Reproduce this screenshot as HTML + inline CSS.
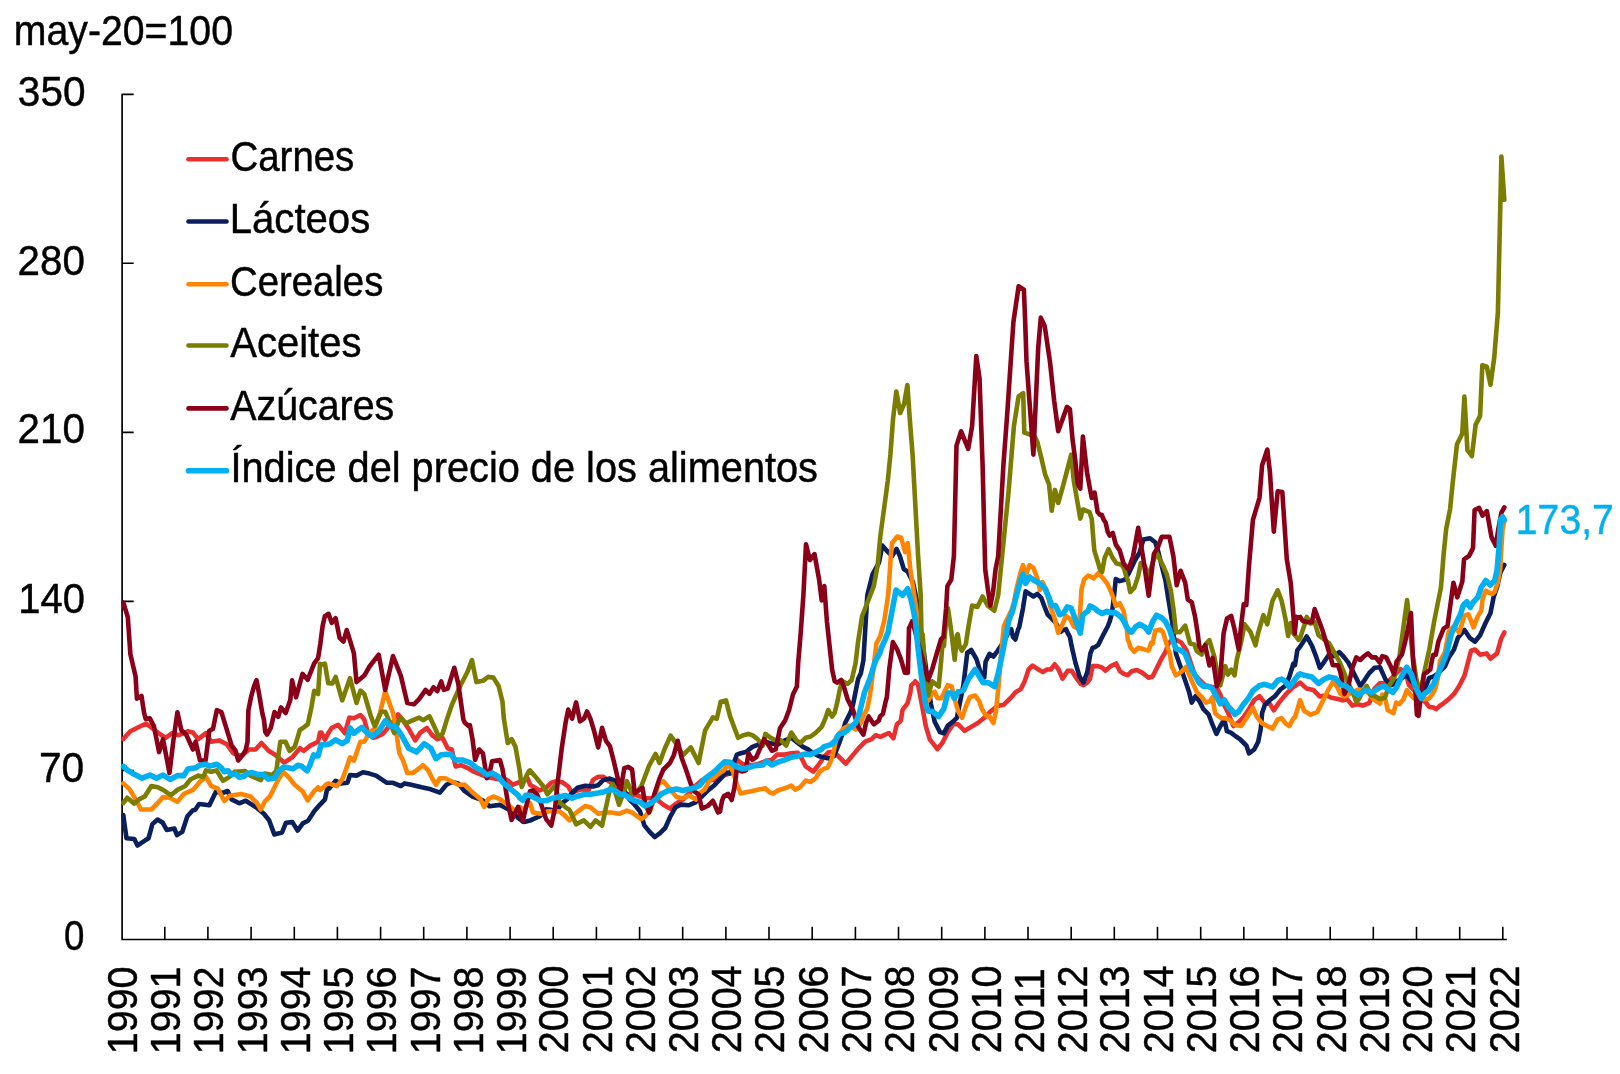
<!DOCTYPE html>
<html><head><meta charset="utf-8"><style>
html,body{margin:0;padding:0;background:#fff;overflow:hidden;}
svg{display:block;will-change:transform;}
text{font-family:"Liberation Sans", sans-serif;font-size:41.7px;stroke-width:0.45px;}
</style></head><body>
<svg width="1620" height="1074" viewBox="0 0 1620 1074">
<text transform="translate(13.84,44.80) scale(0.9408,1)" fill="#000" stroke="#000">may-20=100</text>
<text transform="translate(85.52,106.10) scale(0.9731,1)" text-anchor="end" fill="#000" stroke="#000">350</text>
<text transform="translate(84.97,274.90) scale(0.9683,1)" text-anchor="end" fill="#000" stroke="#000">280</text>
<text transform="translate(84.97,443.00) scale(0.9683,1)" text-anchor="end" fill="#000" stroke="#000">210</text>
<text transform="translate(84.86,613.00) scale(0.9570,1)" text-anchor="end" fill="#000" stroke="#000">140</text>
<text transform="translate(84.24,782.30) scale(0.9773,1)" text-anchor="end" fill="#000" stroke="#000">70</text>
<text transform="translate(84.42,950.00) scale(0.8795,1)" text-anchor="end" fill="#000" stroke="#000">0</text>
<text transform="translate(230.56,170.60) scale(0.9204,1)" fill="#000" stroke="#000">Carnes</text>
<text transform="translate(229.74,233.00) scale(0.9621,1)" fill="#000" stroke="#000">Lácteos</text>
<text transform="translate(230.09,296.00) scale(0.9182,1)" fill="#000" stroke="#000">Cereales</text>
<text transform="translate(230.24,356.70) scale(0.9597,1)" fill="#000" stroke="#000">Aceites</text>
<text transform="translate(230.26,419.70) scale(0.9434,1)" fill="#000" stroke="#000">Azúcares</text>
<text transform="translate(230.48,481.80) scale(0.9533,1)" fill="#000" stroke="#000">Índice del precio de los alimentos</text>
<path d="M133.7 94.3 H122.1 V939.5 H1506.8" fill="none" stroke="#000" stroke-width="1.7" stroke-linejoin="round"/>
<path d="M122.1 770.5H133.7 M122.1 601.4H133.7 M122.1 432.4H133.7 M122.1 263.3H133.7 M164.8 939.5V926.8 M207.9 939.5V926.8 M251.1 939.5V926.8 M294.3 939.5V926.8 M337.4 939.5V926.8 M380.6 939.5V926.8 M423.7 939.5V926.8 M466.9 939.5V926.8 M510.1 939.5V926.8 M553.2 939.5V926.8 M596.4 939.5V926.8 M639.6 939.5V926.8 M682.7 939.5V926.8 M725.9 939.5V926.8 M769.0 939.5V926.8 M812.2 939.5V926.8 M855.4 939.5V926.8 M898.5 939.5V926.8 M941.7 939.5V926.8 M984.9 939.5V926.8 M1028.0 939.5V926.8 M1071.2 939.5V926.8 M1114.3 939.5V926.8 M1157.5 939.5V926.8 M1200.7 939.5V926.8 M1243.8 939.5V926.8 M1287.0 939.5V926.8 M1330.2 939.5V926.8 M1373.3 939.5V926.8 M1416.5 939.5V926.8 M1459.7 939.5V926.8 M1502.8 939.5V926.8" fill="none" stroke="#000" stroke-width="1.6"/>
<polyline points="123.3,739.0 130.4,731.3 136.9,728.0 146.1,723.5 157.8,732.6 165.6,737.8 172.1,733.2 178.7,735.2 187.8,731.3 193.0,732.6 198.2,739.1 206.0,733.2 211.2,741.7 219.1,740.4 226.9,744.3 233.4,753.4 241.2,756.1 249.1,749.5 255.6,749.5 261.4,743.0 268.6,750.8 275.1,754.7 284.2,762.6 292.1,757.4 299.9,748.2 303.8,750.8 310.3,745.6 318.1,741.7 320.0,732.6 321.4,732.6 324.9,739.8 328.6,732.6 331.7,728.0 338.2,724.8 344.8,733.2 349.3,717.6 353.9,718.2 360.4,715.0 364.3,719.6 368.2,733.9 373.4,737.8 377.4,736.5 382.6,733.9 387.8,728.0 393.0,722.2 398.2,714.3 403.4,720.9 408.6,728.7 415.2,740.4 420.4,732.6 426.9,728.0 432.1,735.2 437.3,739.1 442.5,737.8 447.7,748.2 451.7,749.5 455.6,766.5 460.8,765.2 467.3,767.8 473.8,771.7 480.3,774.3 486.9,776.9 493.4,778.2 499.9,779.5 506.4,779.5 512.9,784.7 519.4,782.1 526.0,779.5 527.8,778.6 530.0,784.7 533.0,786.5 539.6,790.4 546.1,787.8 551.3,782.6 556.5,781.2 563.0,782.6 568.2,786.5 572.1,793.0 577.4,790.4 582.6,789.1 587.8,791.7 593.0,779.9 598.2,776.7 603.4,776.7 608.6,781.2 613.9,783.9 619.1,791.7 624.3,794.3 630.8,794.3 637.3,795.6 645.1,798.2 650.4,798.2 656.9,799.5 663.4,804.7 669.9,808.6 676.4,803.4 682.9,799.5 689.5,793.0 696.0,785.2 702.5,779.9 709.0,779.9 715.5,779.9 722.0,776.0 730.0,773.4 736.9,759.8 742.0,763.7 745.9,765.0 753.7,765.0 758.9,763.7 765.4,761.1 771.9,759.8 777.0,754.6 784.8,754.6 791.3,753.3 797.8,752.7 801.7,758.5 805.6,766.3 813.3,771.5 818.5,765.0 823.7,757.2 828.9,752.0 834.1,752.0 839.3,757.2 845.7,763.7 852.2,755.9 858.7,748.1 865.2,741.7 871.7,739.1 875.6,735.2 880.4,736.9 888.8,733.0 893.4,738.2 896.9,724.3 899.9,721.7 900.9,720.4 902.5,710.0 903.5,708.6 907.5,703.4 910.3,693.0 911.3,685.2 914.2,682.6 915.2,681.3 918.0,684.5 921.9,704.7 925.8,726.2 929.8,739.3 937.4,749.1 942.6,742.5 947.8,732.1 953.0,724.3 958.2,724.3 964.7,730.8 971.2,726.9 977.8,723.0 984.3,717.8 990.8,711.2 997.3,706.0 1003.8,704.7 1010.4,698.2 1015.6,692.3 1020.8,689.1 1024.7,681.3 1028.6,669.5 1032.5,665.6 1036.4,668.2 1042.9,672.1 1046.9,669.5 1050.8,669.5 1054.7,664.3 1058.6,669.5 1062.5,678.7 1067.7,670.8 1071.6,670.8 1076.8,678.7 1080.7,683.9 1083.4,685.2 1087.3,682.6 1090.0,678.9 1092.6,666.1 1097.8,666.1 1101.7,667.4 1105.6,670.6 1110.9,666.1 1116.1,663.5 1120.0,671.3 1123.9,673.9 1127.8,675.2 1131.7,671.3 1136.9,670.0 1142.1,672.6 1148.7,677.8 1152.6,676.5 1157.8,666.1 1161.7,658.2 1165.6,651.7 1168.2,643.9 1170.8,641.2 1176.0,639.9 1181.2,642.5 1186.5,650.4 1195.1,675.4 1205.2,685.5 1213.6,687.2 1216.9,688.0 1220.4,694.7 1224.3,705.2 1228.2,713.0 1233.4,726.0 1238.6,722.1 1243.8,716.9 1249.0,709.1 1254.2,700.0 1259.5,696.1 1264.7,702.6 1269.9,703.9 1273.8,710.4 1279.0,702.6 1285.5,694.7 1293.4,686.9 1295.0,686.0 1300.1,682.6 1306.7,688.6 1313.2,689.9 1319.8,696.5 1326.3,695.2 1331.5,697.8 1338.0,699.1 1343.2,700.4 1347.1,699.1 1352.4,705.6 1357.6,704.3 1362.8,705.6 1369.3,703.0 1374.5,688.6 1379.7,683.4 1386.2,683.4 1394.1,675.6 1400.6,669.1 1405.8,673.0 1409.0,685.1 1412.4,688.5 1419.0,696.0 1425.8,702.5 1429.2,706.9 1433.6,707.5 1436.0,709.2 1440.0,705.8 1442.3,704.3 1448.8,699.1 1454.0,693.9 1459.2,686.0 1464.5,675.6 1471.0,650.8 1474.9,649.5 1480.1,654.7 1486.6,653.4 1490.5,658.7 1497.0,653.4 1501.0,639.1 1504.3,632.4" fill="none" stroke="#EA2F2F" stroke-width="4.6" stroke-linejoin="round" stroke-linecap="round"/>
<polyline points="123.3,815.0 124.5,824.1 126.5,838.3 134.3,839.0 137.5,845.5 143.3,841.6 148.5,838.3 152.4,824.1 157.6,819.5 162.8,822.8 166.7,829.9 174.4,828.6 177.0,835.1 182.2,831.9 187.4,816.3 192.6,810.5 195.2,809.8 199.1,804.0 209.4,805.3 215.9,791.7 222.4,793.0 227.6,791.0 231.5,799.4 239.3,803.3 245.7,800.7 256.1,807.2 263.9,813.7 269.1,820.2 274.3,834.4 282.0,832.5 285.9,822.8 292.4,822.1 297.6,830.6 302.8,823.4 308.0,820.8 314.4,811.1 319.8,804.8 325.0,799.3 327.4,787.8 329.1,788.6 335.6,780.8 340.9,783.4 347.4,782.8 350.0,775.0 356.5,775.6 363.0,772.3 369.5,773.6 376.1,775.6 383.9,780.8 386.5,782.8 393.0,782.8 400.8,786.0 404.7,783.4 411.2,784.7 421.7,787.3 430.8,789.3 439.9,792.6 446.4,784.7 451.7,782.1 458.2,783.4 464.7,791.2 472.5,796.5 482.9,800.4 489.5,806.2 499.9,804.9 506.4,808.2 512.9,812.1 518.1,818.0 523.4,821.9 525.2,821.7 530.0,820.6 533.0,819.1 539.6,816.4 546.1,809.3 551.3,809.9 556.5,811.2 561.7,803.4 566.9,799.5 572.1,793.0 577.4,787.8 585.2,785.8 593.0,786.5 598.2,785.2 603.4,779.9 609.9,778.6 615.2,780.6 619.1,785.2 624.3,790.4 629.5,799.5 634.7,804.7 639.9,811.2 644.4,825.4 649.6,831.9 654.8,837.0 660.0,833.1 665.2,828.0 670.4,816.3 675.6,807.2 680.7,804.6 688.5,805.3 695.0,802.7 701.5,796.9 708.0,790.4 714.4,785.2 720.4,778.9 726.2,772.5 730.0,773.4 733.0,765.0 736.9,754.6 740.7,753.3 745.9,752.0 752.4,746.9 758.9,744.3 765.4,741.7 771.9,743.6 778.3,744.3 784.8,740.4 791.3,737.8 797.8,743.0 803.0,746.9 808.1,749.4 813.3,753.3 818.5,755.9 823.7,757.2 828.9,758.5 834.1,755.9 839.3,743.0 841.9,735.2 845.1,723.0 850.4,712.6 853.0,704.7 855.6,691.7 858.2,678.7 860.8,673.5 863.4,660.4 867.3,595.2 872.5,574.3 879.0,562.6 882.3,545.6 888.2,552.2 892.1,556.1 896.6,548.9 899.9,556.1 903.8,569.1 907.7,571.7 912.9,582.1 916.8,600.4 930.8,703.4 934.7,721.7 940.0,732.1 943.9,733.4 947.8,725.6 953.0,721.7 956.9,717.8 959.5,704.7 963.4,685.2 967.3,652.6 971.2,650.0 976.5,659.1 980.4,672.1 984.3,677.4 985.6,661.7 989.5,653.9 993.4,656.5 997.3,651.3 1005.1,639.6 1009.1,630.4 1011.2,629.1 1013.0,636.9 1015.4,639.5 1018.2,629.1 1019.1,627.8 1023.0,608.2 1025.6,591.3 1029.5,593.9 1033.4,596.5 1037.3,593.9 1041.2,597.8 1045.1,608.2 1047.7,614.7 1051.7,618.6 1055.6,622.6 1060.8,631.7 1062.5,630.4 1066.0,629.1 1067.7,633.0 1069.9,636.9 1071.6,646.1 1075.5,663.0 1079.4,676.1 1083.4,682.6 1087.3,672.1 1090.4,653.4 1092.6,647.8 1094.7,647.3 1098.2,644.9 1102.8,635.8 1107.7,626.5 1109.6,621.7 1111.9,613.6 1113.8,598.0 1115.8,579.1 1119.7,581.1 1124.9,579.7 1128.8,573.2 1134.3,561.7 1139.5,552.6 1143.4,539.6 1150.0,538.2 1155.2,542.2 1157.8,550.0 1161.7,565.6 1165.6,581.3 1168.2,598.2 1172.1,621.7 1173.4,633.5 1175.9,653.6 1180.1,665.4 1183.4,675.4 1189.1,692.1 1191.7,702.6 1195.6,696.1 1199.5,701.3 1203.4,709.1 1208.6,714.3 1212.5,724.7 1216.4,733.9 1220.4,726.0 1224.3,719.5 1226.9,731.2 1230.8,732.6 1236.0,736.5 1239.9,739.1 1243.8,743.0 1246.4,745.6 1249.0,753.4 1254.2,749.5 1258.2,741.7 1260.8,728.6 1262.1,713.0 1264.7,705.2 1269.9,700.0 1275.1,696.1 1280.3,689.5 1285.5,685.6 1289.4,676.5 1293.4,663.5 1295.0,665.2 1297.3,650.4 1300.1,646.7 1306.7,636.5 1311.9,645.6 1315.9,656.1 1319.8,667.8 1323.7,662.6 1328.9,654.7 1334.1,656.1 1339.3,652.1 1343.2,656.1 1348.4,662.6 1352.4,670.4 1357.6,680.8 1360.2,686.0 1364.1,680.8 1369.3,673.0 1374.5,667.8 1380.0,667.3 1385.6,679.6 1391.7,685.1 1399.0,680.0 1406.3,675.1 1413.0,683.0 1418.0,691.0 1422.0,693.0 1426.4,685.1 1429.2,677.9 1433.1,676.8 1438.0,673.5 1444.9,666.5 1448.8,657.4 1454.0,649.5 1457.9,637.8 1464.5,630.0 1469.7,637.8 1474.9,641.7 1480.1,635.2 1485.3,623.5 1490.5,613.0 1493.6,597.3 1497.0,587.2 1500.3,572.7 1504.3,565.0" fill="none" stroke="#0A1F5C" stroke-width="4.6" stroke-linejoin="round" stroke-linecap="round"/>
<polyline points="123.3,783.4 129.1,788.6 135.6,799.1 140.9,809.5 151.3,809.5 157.8,803.0 163.0,797.1 169.5,797.8 177.4,801.7 183.9,793.9 193.0,789.9 200.8,780.8 206.0,776.9 211.2,786.0 217.8,788.6 224.3,801.0 229.5,795.8 241.2,793.9 250.4,796.5 256.9,803.0 260.8,809.5 264.7,801.7 269.9,796.5 276.4,783.4 282.9,771.7 289.5,778.2 294.7,784.7 302.5,791.2 307.7,800.4 314.2,791.2 318.1,787.3 320.0,789.9 323.4,787.3 326.5,784.1 328.6,783.4 336.9,786.0 342.2,779.5 346.1,769.1 350.0,757.4 353.9,760.6 360.4,741.7 364.3,741.7 369.5,732.6 374.7,728.7 380.0,713.0 385.2,691.2 393.0,713.0 395.6,726.1 398.2,745.6 399.5,753.4 403.4,761.3 407.3,773.0 412.6,773.0 416.5,770.4 423.0,765.2 428.2,770.4 432.1,778.2 436.0,784.7 439.9,778.2 445.1,778.2 450.4,780.8 458.2,784.7 464.7,784.7 471.2,791.2 480.3,799.1 484.2,806.9 488.2,799.1 493.4,796.5 499.9,799.1 505.1,803.0 510.3,806.9 515.5,810.8 520.4,807.1 523.4,810.8 525.6,807.1 530.0,803.0 533.0,812.5 540.9,813.8 548.7,811.2 553.9,811.2 559.1,811.2 564.3,815.1 569.5,820.4 574.7,813.8 580.0,809.9 585.2,806.0 590.4,807.3 598.2,813.8 604.7,812.5 611.2,812.5 619.1,813.8 626.9,810.6 632.1,812.5 637.3,816.4 641.2,819.1 645.1,816.4 650.4,809.9 655.6,794.3 658.2,783.9 663.4,781.2 669.9,789.1 676.4,796.9 682.9,798.2 689.5,795.6 696.0,799.5 699.9,793.0 705.1,789.1 709.0,781.2 715.5,776.0 720.0,772.8 723.4,770.8 726.9,766.0 730.0,766.9 733.0,771.5 736.9,784.4 740.7,793.5 745.9,792.2 752.4,790.9 758.9,789.6 765.4,788.3 769.3,792.2 773.1,793.5 778.3,790.3 784.8,788.3 791.3,785.7 795.2,789.6 800.4,787.0 805.6,780.6 810.7,781.9 815.9,778.0 819.8,771.5 823.7,768.9 827.6,767.6 831.5,759.8 834.1,749.4 836.7,736.5 843.8,728.2 849.1,725.6 855.6,729.5 860.8,723.0 863.4,715.2 867.3,708.7 869.9,695.6 872.5,676.1 876.4,643.4 880.2,636.3 884.2,621.2 888.2,595.2 890.8,556.1 892.1,543.0 897.3,536.5 901.2,537.8 905.1,552.2 907.7,543.0 910.3,569.1 914.2,595.2 918.1,621.2 928.2,700.8 932.1,693.0 934.7,691.7 937.4,698.2 941.3,698.2 945.2,690.4 947.8,685.2 951.7,686.5 954.3,698.2 958.2,711.2 962.1,717.8 966.0,706.0 969.9,696.9 975.2,695.6 979.1,700.8 981.7,708.6 985.6,715.2 989.5,716.5 993.4,723.0 996.0,711.2 998.6,685.2 1001.2,652.6 1003.8,626.5 1006.0,621.2 1011.2,610.8 1013.9,603.0 1016.5,588.7 1020.4,573.0 1023.0,565.2 1025.6,575.6 1029.5,565.2 1033.4,567.8 1037.3,578.2 1039.9,590.0 1042.5,582.1 1046.4,590.0 1050.4,606.9 1054.3,617.3 1058.2,633.0 1062.1,625.2 1066.0,616.0 1069.9,618.6 1073.8,626.5 1079.0,629.1 1081.6,588.7 1084.2,579.5 1088.2,575.6 1090.0,576.1 1093.6,578.4 1098.2,573.2 1102.8,577.8 1107.3,583.7 1111.2,592.1 1113.5,598.2 1115.8,605.8 1119.7,603.2 1123.6,611.0 1126.9,629.3 1127.8,640.0 1129.1,642.5 1130.2,646.9 1134.3,651.7 1138.2,647.8 1143.4,649.1 1147.4,650.4 1148.7,650.4 1151.3,642.5 1152.6,643.9 1155.2,630.8 1160.4,629.5 1163.0,632.1 1166.9,645.1 1170.0,654.5 1171.7,666.2 1175.9,675.4 1180.9,672.1 1185.9,667.0 1189.3,675.4 1193.5,684.6 1196.9,692.1 1202.1,697.4 1206.0,702.6 1209.9,701.3 1212.5,697.4 1215.1,713.0 1217.7,715.6 1221.7,718.2 1225.6,718.2 1230.8,720.8 1234.7,724.7 1241.2,726.0 1246.4,718.2 1252.9,707.8 1256.9,716.9 1262.1,723.4 1267.3,726.0 1272.5,728.6 1277.7,719.5 1281.6,718.2 1285.5,723.4 1289.4,726.0 1293.4,718.2 1295.0,717.3 1300.1,700.2 1304.1,710.8 1310.6,714.7 1317.2,712.1 1322.4,701.7 1327.6,691.2 1332.8,682.1 1336.7,686.0 1340.6,693.9 1344.5,696.5 1357.6,689.9 1364.1,689.9 1369.3,693.9 1373.2,699.1 1380.0,703.6 1382.2,694.6 1385.6,700.2 1387.8,710.3 1393.4,713.1 1396.2,702.5 1399.6,704.1 1403.5,699.1 1406.8,690.2 1409.6,693.5 1413.5,698.0 1419.1,700.2 1424.7,699.1 1429.2,698.5 1433.6,692.4 1435.9,686.8 1438.1,676.8 1440.0,661.0 1444.9,652.1 1448.8,631.3 1454.0,626.1 1459.2,632.6 1464.5,615.6 1468.4,614.3 1473.6,627.4 1477.5,616.9 1481.4,610.4 1482.5,599.5 1485.8,590.6 1489.2,592.8 1492.5,593.9 1494.7,591.7 1498.1,581.6 1500.3,568.2 1501.5,545.9 1502.6,529.1 1504.3,521.5" fill="none" stroke="#FF8400" stroke-width="4.6" stroke-linejoin="round" stroke-linecap="round"/>
<polyline points="123.3,803.0 127.2,797.8 134.3,803.6 139.6,799.1 144.8,796.5 151.3,786.0 157.8,787.3 163.0,789.9 170.8,795.2 177.4,789.9 185.2,786.0 190.4,779.5 198.2,775.6 203.4,776.9 206.0,770.4 211.2,771.7 216.5,770.4 223.0,780.8 229.5,776.9 234.7,771.7 245.1,771.0 250.4,775.6 260.8,780.2 264.7,773.6 272.5,775.0 276.4,770.4 280.3,741.7 285.5,741.7 289.5,750.8 294.7,746.9 299.9,730.0 303.8,727.4 307.7,724.4 311.6,706.5 314.2,690.8 318.1,694.1 320.0,663.9 321.4,664.7 324.9,663.6 328.2,683.2 332.4,683.4 335.6,676.9 342.2,700.4 350.0,678.2 356.5,703.0 360.4,690.6 364.3,693.9 370.8,716.0 374.7,726.1 381.3,711.7 385.2,711.7 389.1,720.9 394.3,733.2 398.2,722.2 400.8,717.6 406.0,723.5 411.2,720.9 419.1,717.6 423.0,720.2 429.5,716.3 434.7,727.4 438.6,736.5 442.5,733.9 447.7,716.9 451.7,705.2 460.8,684.7 467.3,672.3 471.9,660.0 476.4,682.1 482.9,680.8 488.2,676.9 493.4,677.6 498.6,686.0 502.5,701.7 503.8,718.2 507.7,743.0 511.6,739.1 515.5,746.9 519.7,770.6 521.7,786.9 526.0,776.9 529.1,770.8 530.0,770.4 536.9,778.6 543.5,786.5 547.4,794.3 555.2,785.2 559.1,802.1 565.6,807.3 569.5,809.9 576.1,824.3 583.9,820.4 590.4,826.9 595.6,820.4 602.1,825.6 606.0,807.3 609.9,789.1 612.6,783.9 619.1,804.7 624.3,790.4 626.9,781.2 632.1,793.0 637.3,791.7 641.2,786.5 649.1,765.6 655.6,753.9 659.5,763.0 664.7,748.7 670.6,735.6 675.1,742.1 682.9,755.2 690.8,747.4 698.6,763.0 705.1,730.4 712.9,717.4 716.8,718.7 720.7,701.7 726.0,700.4 730.0,716.1 738.1,737.8 743.3,735.2 748.5,733.9 752.4,735.2 757.6,739.1 762.8,745.6 765.4,733.9 770.6,737.8 775.7,740.4 780.9,740.4 786.1,745.6 791.3,732.6 796.5,740.4 800.4,743.0 805.6,737.8 810.7,736.5 815.9,732.6 821.7,726.9 825.6,717.8 828.2,710.0 832.1,716.5 834.7,712.6 837.3,702.1 839.9,689.1 842.5,681.3 847.7,683.9 851.7,680.0 855.6,663.0 858.2,640.8 862.1,616.0 867.3,603.0 873.8,586.1 877.7,565.2 880.3,536.5 887.8,480.8 890.4,454.7 893.0,419.5 896.3,391.5 900.2,413.0 904.1,403.9 907.4,385.0 910.0,422.1 912.6,454.7 918.1,556.1 920.7,595.2 921.7,646.1 922.7,634.3 925.6,678.7 928.2,695.6 932.1,681.3 938.7,686.5 941.3,659.1 942.2,647.3 943.9,646.1 946.1,621.2 948.0,608.2 951.3,631.7 953.0,646.1 954.7,659.7 956.9,635.6 957.8,634.3 959.5,646.1 961.9,650.6 965.8,644.1 968.4,627.1 972.1,605.6 977.4,606.9 982.6,596.5 987.8,605.6 994.3,610.8 998.2,595.2 1000.8,569.1 1008.6,491.2 1013.9,426.1 1018.6,396.4 1023.2,393.2 1024.3,432.6 1028.2,433.9 1034.7,436.5 1037.3,441.7 1041.2,457.4 1045.1,474.3 1049.1,484.7 1051.7,510.8 1054.9,489.9 1058.2,503.0 1063.4,484.7 1071.2,454.7 1073.8,480.8 1080.3,518.6 1082.9,509.5 1089.5,512.1 1091.7,518.7 1094.3,550.4 1097.8,561.7 1099.9,569.1 1102.1,571.9 1104.7,557.6 1108.6,549.1 1112.5,557.6 1116.5,563.5 1120.0,564.3 1122.0,565.2 1123.9,568.2 1126.0,575.6 1127.8,580.0 1130.2,592.1 1134.3,587.8 1138.2,576.1 1140.8,563.0 1144.7,565.6 1148.7,576.1 1152.6,563.0 1156.5,552.6 1159.1,557.8 1163.0,565.6 1166.9,574.7 1170.8,590.4 1173.4,608.6 1176.0,632.1 1179.9,632.1 1185.2,625.6 1190.1,643.6 1194.3,644.4 1196.8,651.1 1201.8,654.5 1206.0,643.6 1209.4,640.2 1211.9,648.6 1214.4,657.0 1217.8,675.4 1220.3,685.5 1222.8,675.4 1225.3,666.2 1227.8,674.6 1231.2,669.6 1234.5,675.4 1237.0,658.7 1241.2,641.9 1244.6,624.3 1250.4,631.8 1255.5,645.3 1258.0,633.5 1263.4,615.2 1267.3,624.3 1272.5,600.8 1277.7,590.4 1281.6,600.8 1285.5,619.1 1288.1,636.0 1290.7,623.0 1293.4,633.4 1295.0,635.2 1298.6,639.9 1300.2,637.8 1304.1,626.1 1306.7,616.9 1310.6,623.5 1314.6,622.2 1318.5,635.2 1323.7,639.1 1328.9,643.0 1334.1,652.1 1339.3,661.3 1343.2,670.4 1347.1,680.8 1352.4,691.2 1356.3,701.7 1358.9,699.1 1362.8,691.2 1366.7,686.0 1370.6,695.2 1375.8,696.5 1379.7,699.1 1384.9,697.8 1388.9,686.0 1394.1,678.2 1399.3,657.4 1403.2,628.7 1407.1,600.0 1412.3,652.1 1416.2,678.2 1420.1,693.9 1424.1,673.0 1429.3,649.5 1434.5,619.6 1441.0,587.3 1443.6,554.7 1446.2,528.7 1450.1,509.1 1452.7,483.0 1454.0,471.0 1457.0,444.2 1462.2,433.8 1464.4,396.6 1467.4,450.2 1471.9,456.1 1475.6,424.9 1480.1,415.9 1482.3,365.3 1486.8,366.8 1490.5,384.7 1494.2,357.9 1497.9,312.3 1501.4,156.6 1504.3,199.8" fill="none" stroke="#7A7D00" stroke-width="4.6" stroke-linejoin="round" stroke-linecap="round"/>
<polyline points="123.3,602.5 127.8,617.2 130.4,654.3 135.6,676.5 136.9,698.6 141.5,696.0 144.1,713.0 145.7,718.9 149.7,718.2 153.9,726.1 159.1,752.1 163.0,739.1 169.5,773.0 173.4,740.4 177.4,712.3 181.3,730.0 186.5,735.2 193.0,749.5 195.6,741.7 200.0,760.5 205.6,760.5 209.3,730.7 213.0,728.9 216.8,710.2 221.4,712.1 231.7,745.6 235.4,750.3 238.2,760.5 242.8,754.9 245.6,750.3 247.5,741.9 248.4,710.3 251.2,696.3 254.0,686.3 256.5,680.1 259.0,693.5 262.3,713.1 264.0,720.0 265.2,731.7 267.0,734.5 270.8,727.9 274.5,712.1 278.2,716.8 281.0,707.4 285.7,713.0 290.3,700.0 292.1,680.4 296.0,697.3 302.5,673.9 307.7,679.7 314.2,663.4 318.1,658.2 320.4,643.4 322.6,626.1 324.9,616.1 328.5,613.8 331.7,622.8 335.6,618.2 339.6,637.8 343.5,641.7 346.7,630.0 350.0,640.4 353.9,653.4 356.5,682.1 364.3,675.6 369.5,666.5 378.7,654.7 385.2,689.9 393.0,656.1 400.8,675.6 407.3,703.0 413.9,704.3 419.1,699.1 425.6,689.9 429.5,693.9 433.4,687.3 437.3,691.2 441.2,681.5 443.8,689.9 447.7,688.6 454.3,667.8 458.2,683.4 463.4,719.6 464.7,722.5 468.6,726.1 469.9,725.1 472.5,739.1 475.1,760.0 479.0,749.5 482.9,753.4 486.9,778.2 489.5,773.0 492.1,761.3 499.9,760.0 502.5,769.1 507.7,801.7 511.6,819.9 518.1,806.9 522.7,821.2 527.3,801.7 530.0,791.2 533.0,790.4 536.9,794.3 540.9,803.4 546.1,819.1 551.3,825.6 555.2,807.3 557.8,781.2 561.7,748.7 565.6,722.6 568.2,709.6 572.1,718.7 576.1,702.4 580.0,721.3 583.9,718.7 587.1,711.5 590.4,718.7 594.3,731.7 598.2,747.4 602.1,727.8 606.0,740.8 609.9,746.1 613.9,761.7 617.8,778.6 620.4,791.7 624.3,768.2 628.2,766.9 632.1,769.5 634.7,793.0 638.6,790.4 642.5,787.8 645.1,803.4 649.1,812.5 654.3,794.3 659.5,778.6 663.4,769.5 669.9,763.0 673.8,755.2 677.7,740.8 681.6,757.8 685.5,768.2 690.8,783.9 694.7,791.7 698.6,794.3 701.8,808.6 707.7,806.0 712.9,800.8 718.1,812.5 720.0,811.7 722.0,800.8 723.9,796.1 728.2,793.9 731.7,800.0 734.3,788.3 736.9,768.9 742.0,771.5 745.9,770.2 748.5,753.3 752.4,759.8 756.3,757.2 760.2,748.1 764.1,739.1 768.0,744.3 771.9,750.7 775.7,749.4 780.0,728.2 785.2,720.4 789.1,710.0 793.0,694.3 796.9,686.5 798.2,663.0 800.8,631.7 803.4,595.2 806.0,544.3 809.9,560.0 814.5,554.1 819.1,579.5 821.7,600.4 824.3,586.1 826.9,621.2 832.1,669.6 834.7,681.3 837.3,682.6 841.2,680.0 843.8,686.5 847.7,699.5 853.0,710.0 858.2,726.9 863.4,734.7 866.0,723.0 868.6,716.5 873.8,724.3 879.0,720.4 880.0,716.5 882.9,713.9 885.2,703.4 886.9,696.9 889.3,668.9 892.9,642.1 897.1,649.3 900.9,659.1 904.9,672.8 907.9,672.8 909.0,627.8 910.0,626.5 912.3,621.2 928.2,680.0 932.1,669.5 940.9,639.5 943.5,636.9 946.1,608.2 947.4,586.1 951.3,579.5 953.9,556.1 956.5,445.6 961.1,431.3 968.2,448.9 972.1,426.1 976.3,356.0 979.5,378.2 982.6,465.2 985.2,569.1 987.8,588.7 990.4,605.6 993.0,592.6 995.6,569.1 998.2,556.1 1003.4,465.2 1007.3,413.0 1013.4,322.1 1018.6,286.3 1023.9,289.6 1025.2,322.1 1026.5,361.2 1033.4,454.7 1038.2,348.2 1040.8,317.6 1044.7,326.1 1049.9,361.2 1054.1,400.2 1058.2,431.3 1063.4,416.9 1066.9,406.9 1069.9,409.1 1072.5,439.1 1075.1,458.7 1077.7,483.4 1080.3,488.6 1082.9,436.5 1086.9,471.7 1089.7,487.3 1091.7,497.8 1094.6,492.6 1097.6,512.1 1099.9,514.7 1101.7,514.7 1103.8,519.9 1105.6,522.5 1107.7,531.7 1109.6,535.6 1111.6,534.1 1112.8,533.0 1115.8,544.6 1119.7,550.4 1123.6,563.5 1127.2,568.2 1128.6,569.1 1133.0,556.5 1138.2,527.8 1143.4,559.1 1148.7,595.6 1153.9,553.9 1157.8,547.4 1161.7,536.9 1169.5,536.9 1173.4,556.5 1176.7,585.2 1180.6,570.8 1185.2,582.6 1187.8,599.5 1191.7,602.1 1195.1,616.8 1197.7,633.5 1199.3,646.1 1201.8,650.3 1205.2,645.3 1209.4,665.4 1212.7,657.8 1216.9,686.3 1220.3,677.1 1223.6,633.5 1227.0,618.4 1231.2,615.9 1234.5,629.3 1238.7,649.4 1241.2,625.1 1243.7,604.2 1246.3,605.0 1249.0,565.6 1252.9,520.0 1259.5,497.8 1262.1,465.2 1267.3,449.5 1269.9,471.7 1273.8,531.7 1277.7,491.2 1282.3,491.9 1286.8,559.1 1290.7,582.6 1294.8,633.6 1296.3,616.9 1298.6,617.8 1300.2,616.9 1302.8,620.9 1308.0,622.2 1311.9,622.2 1314.6,609.1 1318.5,619.6 1322.4,630.0 1326.3,643.0 1330.2,656.1 1332.8,665.2 1338.0,665.2 1340.6,673.0 1344.5,693.9 1348.4,686.0 1352.4,667.8 1356.3,657.4 1360.2,660.0 1364.1,656.1 1368.0,653.4 1371.9,657.4 1375.8,657.4 1379.7,662.6 1382.3,656.1 1386.2,657.4 1390.2,665.2 1394.1,674.3 1396.7,661.3 1401.9,654.7 1405.8,639.1 1411.0,613.0 1413.0,660.0 1414.6,676.8 1416.9,714.7 1418.5,715.9 1421.3,693.5 1424.1,674.0 1426.9,672.3 1430.3,669.5 1432.0,660.0 1433.2,654.7 1435.8,654.7 1438.4,641.7 1443.6,628.7 1447.5,626.1 1453.4,582.7 1457.3,597.3 1462.3,581.6 1464.0,559.3 1469.1,555.9 1473.0,548.1 1474.6,510.1 1479.1,507.9 1482.5,515.7 1486.9,511.2 1491.4,536.9 1495.9,545.9 1498.1,530.2 1501.5,512.3 1504.3,507.5" fill="none" stroke="#8B0019" stroke-width="4.6" stroke-linejoin="round" stroke-linecap="round"/>
<polyline points="123.6,766.5 127.8,770.4 134.3,774.3 142.2,778.2 150.0,775.0 156.5,778.2 163.0,775.0 170.2,779.5 177.4,775.6 183.9,775.6 187.8,769.1 195.6,767.8 200.0,765.2 205.6,764.2 209.3,766.1 216.8,764.2 221.4,768.0 224.2,771.7 227.9,770.8 231.7,774.5 235.4,773.6 239.1,777.3 243.8,776.4 247.5,773.6 252.1,772.6 257.7,774.5 263.3,774.5 268.0,779.1 274.5,778.2 279.1,770.8 283.8,767.0 289.4,768.0 293.1,768.9 297.8,765.2 301.5,766.1 307.1,770.8 309.9,765.2 313.6,754.9 318.2,755.9 321.0,744.7 325.7,744.7 330.0,743.8 335.6,739.8 342.2,743.7 347.4,740.4 350.0,728.0 353.9,733.2 361.7,727.4 368.2,733.9 372.1,736.5 378.7,731.3 385.2,720.9 390.4,726.1 395.6,726.7 400.8,733.9 408.6,748.2 416.5,752.1 424.3,743.7 430.8,748.2 436.0,758.7 441.2,754.7 450.4,754.1 455.6,760.0 462.1,760.0 469.9,762.6 476.4,767.8 481.6,770.4 486.9,775.0 492.1,773.0 498.6,776.9 503.8,783.4 511.6,789.9 518.1,795.2 520.0,798.2 522.7,800.4 525.6,795.4 530.2,795.4 535.6,798.2 540.9,800.8 546.1,800.8 552.6,798.2 559.1,796.9 565.6,795.6 572.1,798.2 577.4,796.2 585.2,794.3 590.4,794.3 598.2,793.0 604.7,791.7 611.2,789.1 616.5,791.7 620.4,794.3 624.3,794.3 629.5,798.2 634.7,800.8 639.9,802.1 645.1,806.0 650.4,803.4 655.6,799.5 660.8,794.3 667.3,791.0 676.4,789.1 682.9,790.4 689.5,789.1 694.7,787.8 699.9,785.2 705.1,778.6 710.3,774.7 715.5,770.8 720.7,765.6 724.7,761.7 730.2,762.4 735.6,766.3 742.0,768.9 748.5,767.6 755.0,765.6 762.8,765.0 766.7,761.1 771.9,765.0 777.0,762.4 784.8,759.8 791.3,757.2 797.8,755.9 805.6,754.0 810.7,754.6 815.9,752.0 821.1,749.4 823.7,746.9 831.5,744.3 835.4,740.4 839.3,733.9 844.4,732.6 855.6,723.0 859.5,712.6 862.1,702.1 864.7,691.7 869.9,678.7 875.1,661.7 880.0,652.6 881.6,647.3 885.2,639.6 888.2,631.7 889.1,626.5 892.1,610.8 896.0,590.0 902.5,595.2 907.7,588.7 911.6,601.7 915.5,621.2 917.8,646.1 921.7,678.7 925.6,704.7 928.2,711.2 932.1,711.2 938.7,716.5 943.9,708.6 947.8,693.0 951.7,693.0 954.3,698.2 958.2,691.7 963.4,690.4 968.6,678.7 975.2,669.5 979.1,676.1 983.0,682.6 988.2,682.6 994.7,686.5 998.6,672.1 1002.5,652.6 1006.4,633.0 1008.6,621.2 1012.6,610.8 1016.5,595.2 1020.4,580.8 1023.0,574.3 1025.6,583.4 1029.5,576.9 1034.7,580.8 1039.9,583.4 1045.1,588.7 1049.1,597.8 1051.7,605.6 1055.6,605.6 1059.5,614.7 1063.4,613.4 1067.3,606.9 1071.2,608.2 1075.1,618.6 1080.3,633.0 1082.9,614.7 1088.2,610.8 1090.0,606.0 1092.1,606.9 1095.2,608.6 1097.3,610.8 1102.1,613.6 1106.9,611.2 1109.0,612.1 1115.8,613.0 1121.0,616.9 1124.7,622.6 1126.5,626.9 1130.0,631.7 1131.7,632.1 1135.6,626.9 1139.5,624.3 1144.7,626.9 1148.7,632.1 1152.6,621.7 1156.5,615.2 1161.7,617.8 1165.6,621.7 1169.5,629.5 1173.4,641.9 1175.9,648.6 1180.9,650.3 1185.1,653.6 1188.4,662.0 1191.8,669.6 1195.1,675.4 1199.3,683.0 1203.5,686.3 1207.7,686.3 1211.9,688.0 1220.4,703.9 1224.3,700.0 1228.2,706.5 1232.1,710.4 1234.7,714.3 1238.6,711.7 1243.8,703.9 1249.0,697.4 1252.9,690.8 1259.5,685.6 1264.7,684.3 1272.5,686.9 1277.7,680.4 1281.6,679.1 1285.5,681.7 1289.4,686.9 1293.4,681.7 1295.0,679.5 1298.9,674.3 1300.0,673.9 1305.4,675.6 1311.9,676.9 1318.5,683.4 1323.7,679.5 1328.9,676.9 1335.4,678.2 1340.6,684.7 1345.8,686.0 1352.4,691.2 1358.9,695.2 1365.4,689.9 1371.9,692.6 1380.0,687.4 1384.5,686.3 1387.8,689.1 1392.8,692.4 1396.8,686.8 1401.2,676.8 1406.8,667.3 1411.3,674.0 1415.8,687.9 1421.3,698.5 1424.7,693.5 1429.2,690.2 1433.6,684.0 1438.1,674.0 1441.0,667.0 1446.2,654.7 1451.4,633.9 1456.6,622.2 1460.5,614.3 1463.2,605.2 1466.8,601.7 1470.2,607.3 1473.5,601.7 1478.0,597.3 1481.3,587.2 1485.8,580.5 1490.3,585.0 1494.7,580.5 1497.0,570.4 1499.2,545.9 1500.6,519.6 1502.6,516.8 1504.3,519.8" fill="none" stroke="#00B0F0" stroke-width="5.6" stroke-linejoin="round" stroke-linecap="round"/>
<text transform="translate(137.31,1054.24) rotate(-90) scale(0.9467,1)" fill="#000" stroke="#000">1990</text>
<text transform="translate(180.23,1054.24) rotate(-90) scale(0.9467,1)" fill="#000" stroke="#000">1991</text>
<text transform="translate(223.15,1054.24) rotate(-90) scale(0.9467,1)" fill="#000" stroke="#000">1992</text>
<text transform="translate(267.07,1054.24) rotate(-90) scale(0.9467,1)" fill="#000" stroke="#000">1993</text>
<text transform="translate(309.99,1054.24) rotate(-90) scale(0.9467,1)" fill="#000" stroke="#000">1994</text>
<text transform="translate(352.91,1054.24) rotate(-90) scale(0.9467,1)" fill="#000" stroke="#000">1995</text>
<text transform="translate(395.83,1054.24) rotate(-90) scale(0.9467,1)" fill="#000" stroke="#000">1996</text>
<text transform="translate(439.75,1054.24) rotate(-90) scale(0.9467,1)" fill="#000" stroke="#000">1997</text>
<text transform="translate(482.67,1054.24) rotate(-90) scale(0.9467,1)" fill="#000" stroke="#000">1998</text>
<text transform="translate(525.59,1054.24) rotate(-90) scale(0.9467,1)" fill="#000" stroke="#000">1999</text>
<text transform="translate(568.40,1053.26) rotate(-90) scale(0.9467,1)" fill="#000" stroke="#000">2000</text>
<text transform="translate(612.43,1053.26) rotate(-90) scale(0.9467,1)" fill="#000" stroke="#000">2001</text>
<text transform="translate(655.24,1053.26) rotate(-90) scale(0.9467,1)" fill="#000" stroke="#000">2002</text>
<text transform="translate(698.16,1053.26) rotate(-90) scale(0.9467,1)" fill="#000" stroke="#000">2003</text>
<text transform="translate(741.19,1053.26) rotate(-90) scale(0.9467,1)" fill="#000" stroke="#000">2004</text>
<text transform="translate(784.11,1053.26) rotate(-90) scale(0.9467,1)" fill="#000" stroke="#000">2005</text>
<text transform="translate(827.93,1053.26) rotate(-90) scale(0.9467,1)" fill="#000" stroke="#000">2006</text>
<text transform="translate(870.95,1053.26) rotate(-90) scale(0.9467,1)" fill="#000" stroke="#000">2007</text>
<text transform="translate(913.76,1053.26) rotate(-90) scale(0.9467,1)" fill="#000" stroke="#000">2008</text>
<text transform="translate(957.68,1053.26) rotate(-90) scale(0.9467,1)" fill="#000" stroke="#000">2009</text>
<text transform="translate(1000.71,1053.26) rotate(-90) scale(0.9467,1)" fill="#000" stroke="#000">2010</text>
<text transform="translate(1043.63,1053.26) rotate(-90) scale(0.9467,1)" fill="#000" stroke="#000">2011</text>
<text transform="translate(1086.55,1053.26) rotate(-90) scale(0.9467,1)" fill="#000" stroke="#000">2012</text>
<text transform="translate(1129.47,1053.26) rotate(-90) scale(0.9467,1)" fill="#000" stroke="#000">2013</text>
<text transform="translate(1173.39,1053.26) rotate(-90) scale(0.9467,1)" fill="#000" stroke="#000">2014</text>
<text transform="translate(1216.31,1053.26) rotate(-90) scale(0.9467,1)" fill="#000" stroke="#000">2015</text>
<text transform="translate(1259.23,1053.26) rotate(-90) scale(0.9467,1)" fill="#000" stroke="#000">2016</text>
<text transform="translate(1302.15,1053.26) rotate(-90) scale(0.9467,1)" fill="#000" stroke="#000">2017</text>
<text transform="translate(1346.07,1053.26) rotate(-90) scale(0.9467,1)" fill="#000" stroke="#000">2018</text>
<text transform="translate(1388.99,1053.26) rotate(-90) scale(0.9467,1)" fill="#000" stroke="#000">2019</text>
<text transform="translate(1431.80,1053.26) rotate(-90) scale(0.9467,1)" fill="#000" stroke="#000">2020</text>
<text transform="translate(1474.83,1053.26) rotate(-90) scale(0.9467,1)" fill="#000" stroke="#000">2021</text>
<text transform="translate(1518.64,1053.26) rotate(-90) scale(0.9467,1)" fill="#000" stroke="#000">2022</text>
<line x1="188.5" x2="226.5" y1="159.3" y2="159.3" stroke="#EA2F2F" stroke-width="4.6" stroke-linecap="round"/>
<line x1="188.5" x2="226.5" y1="221.5" y2="221.5" stroke="#0A1F5C" stroke-width="4.6" stroke-linecap="round"/>
<line x1="188.5" x2="226.5" y1="284.2" y2="284.2" stroke="#FF8400" stroke-width="4.6" stroke-linecap="round"/>
<line x1="188.5" x2="226.5" y1="345.5" y2="345.5" stroke="#7A7D00" stroke-width="4.6" stroke-linecap="round"/>
<line x1="188.5" x2="226.5" y1="408.4" y2="408.4" stroke="#8B0019" stroke-width="4.6" stroke-linecap="round"/>
<line x1="188.5" x2="226.5" y1="470.8" y2="470.8" stroke="#00B0F0" stroke-width="5.6" stroke-linecap="round"/>
<text transform="translate(1515.80,534.00) scale(0.9398,1)" fill="#00B0F0" stroke="#00B0F0">173,7</text>
</svg></body></html>
